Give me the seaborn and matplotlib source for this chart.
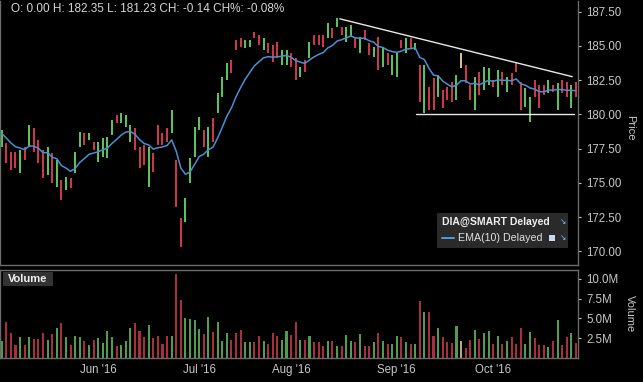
import numpy as np
import pandas as pd
import matplotlib
matplotlib.use("Agg")
import matplotlib.pyplot as plt
from matplotlib.patches import Rectangle
import seaborn as sns

# ---------------- data ----------------
holidays = ["2016-05-30", "2016-07-04", "2016-09-05"]
dates = pd.bdate_range("2016-05-02", "2016-10-27")
dates = dates[~dates.isin(pd.to_datetime(holidays))]

high = [178.86, 177.91, 177.25, 177.25, 177.40, 177.62, 179.22, 179.00, 178.13, 177.40,
        177.62, 177.18, 176.67, 175.21, 175.43, 175.36, 177.25, 178.71, 178.64, 178.64,
        177.98, 177.98, 178.27, 178.35, 179.59, 179.95, 180.10, 179.95, 179.22, 179.00,
        177.62, 177.76, 177.62, 177.18, 179.22, 178.64, 179.00, 180.30, 176.67, 172.44,
        173.90, 176.81, 179.08, 179.81, 178.86, 179.08, 179.74, 181.56, 182.72, 183.74,
        183.96, 185.42, 185.57, 185.42, 185.42, 186.00, 185.79, 185.57, 185.20, 185.06,
        185.28, 184.69, 184.69, 184.47, 184.11, 183.45, 183.96, 185.28, 185.79, 185.79,
        185.79, 186.66, 186.30, 187.03, 186.37, 186.37, 186.52, 185.64, 185.64, 186.15,
        185.20, 184.91, 185.64, 184.91, 184.47, 184.33, 184.47, 185.42, 185.57, 185.57,
        185.20, 183.60, 183.60, 181.99, 182.65, 182.87, 181.77, 181.99, 182.36, 182.87,
        184.47, 183.60, 182.14, 182.72, 183.09, 183.45, 183.38, 182.50, 183.23, 183.09,
        182.72, 183.01, 183.82, 182.36, 181.92, 181.26, 182.50, 182.14, 182.14, 182.50,
        182.14, 182.28, 182.50, 182.36, 182.14, 182.35]
low = [177.62, 176.45, 175.94, 176.09, 175.72, 176.67, 177.62, 177.25, 176.45, 175.36,
       175.58, 174.99, 174.70, 173.75, 174.48, 174.63, 175.72, 177.62, 177.76, 178.13,
       177.40, 176.52, 176.89, 176.81, 178.49, 179.37, 179.37, 179.08, 177.98, 177.40,
       176.09, 176.30, 174.70, 175.80, 177.76, 177.76, 177.98, 178.64, 173.24, 170.33,
       172.15, 174.99, 176.89, 178.86, 177.62, 176.89, 177.98, 180.10, 181.26, 182.50,
       183.01, 184.69, 184.91, 184.84, 184.91, 185.57, 185.06, 184.69, 184.47, 183.82,
       184.11, 183.60, 183.60, 183.45, 182.50, 182.72, 183.09, 184.11, 185.06, 185.06,
       184.91, 185.57, 185.57, 186.37, 185.79, 185.28, 185.64, 184.84, 184.47, 185.42,
       184.33, 184.18, 183.23, 183.45, 183.60, 182.87, 182.72, 184.84, 184.47, 184.84,
       184.69, 180.90, 180.10, 180.32, 180.32, 181.26, 180.46, 181.04, 180.90, 181.04,
       183.38, 182.28, 181.04, 180.32, 181.41, 181.77, 182.14, 181.99, 181.26, 182.14,
       181.63, 182.14, 183.09, 180.32, 180.53, 179.44, 181.26, 180.46, 181.41, 181.56,
       181.63, 180.32, 181.56, 181.26, 180.46, 181.23]
close = [178.6, 176.8, 176.3, 176.4, 177.1, 176.9, 178.9, 177.6, 176.8, 175.8,
         177.2, 175.4, 176.2, 174.1, 175.2, 174.8, 177.0, 178.5, 178.0, 178.5,
         177.6, 177.7, 178.0, 178.1, 179.4, 179.5, 179.9, 179.7, 179.0, 177.6,
         176.4, 176.6, 177.3, 176.1, 178.0, 177.9, 178.2, 180.0, 173.5, 170.6,
         173.6, 176.6, 178.8, 179.5, 177.9, 178.9, 178.4, 181.3, 182.5, 183.5,
         183.2, 184.9, 185.0, 185.3, 185.3, 185.7, 185.2, 185.4, 184.6, 184.0,
         184.3, 184.5, 184.5, 183.6, 182.8, 183.3, 183.3, 185.1, 185.2, 185.2,
         185.1, 186.4, 185.8, 186.8, 185.9, 186.2, 186.3, 185.0, 185.4, 185.6,
         184.5, 184.8, 183.5, 184.6, 183.8, 184.1, 184.3, 185.0, 185.4, 185.0,
         185.1, 181.0, 183.3, 180.5, 180.6, 182.6, 180.7, 181.2, 181.1, 182.7,
         183.9, 182.4, 181.2, 182.5, 181.6, 183.2, 183.1, 182.1, 183.0, 182.3,
         182.5, 182.3, 183.2, 180.6, 181.7, 181.0, 181.5, 180.8, 181.6, 182.3,
         181.8, 182.0, 181.8, 181.5, 181.74, 181.60]
direction = list(
    "GRRRGRGRRR" "GRGRGRGGRG" "RGGGGRGGGR" "RRGRRRRGRR" "GGGGRGRGGG"
    "RRRGGRRGRR" "RGGRRGRGRR" "RGRGRGGRGR" "RGRGRGGRGR" "GRGRRGRRRG"
    "YRRGRGGRGR" "GRRRGGRRRG" "RGRRGR")
volume_m = [2.1, 4.6, 3.1, 1.7, 2.7, 1.7, 2.7, 2.4, 2.4, 3.1,
            2.3, 3.0, 3.8, 4.4, 2.6, 1.7, 2.8, 2.7, 2.2, 1.6,
            2.3, 2.5, 1.9, 3.4, 2.6, 1.5, 1.7, 2.1, 3.8, 4.4,
            3.4, 2.6, 4.2, 2.5, 2.8, 1.8, 2.8, 2.8, 10.6, 7.3,
            5.1, 4.9, 4.8, 3.7, 3.0, 5.2, 3.3, 4.5, 2.2, 3.1,
            2.3, 3.1, 3.5, 2.0, 2.0, 2.0, 2.8, 2.1, 1.75, 3.2,
            2.8, 2.3, 3.4, 2.9, 4.6, 2.3, 2.3, 2.8, 2.0, 2.0,
            1.5, 2.1, 2.1, 1.5, 1.5, 2.9, 2.1, 2.0, 3.0, 1.5,
            1.5, 2.0, 3.2, 2.2, 1.8, 1.8, 2.8, 2.6, 2.0, 1.8,
            1.8, 7.2, 5.75, 5.75, 2.8, 3.8, 2.7, 2.0, 1.9, 4.1,
            2.2, 1.3, 2.3, 3.5, 2.4, 3.2, 3.4, 1.8, 2.8, 1.8,
            2.2, 2.6, 1.8, 3.8, 1.8, 3.3, 2.5, 1.7, 1.7, 1.45,
            2.1, 4.8, 1.7, 2.7, 3.1, 1.9]

# annotation lines (bar index, price)
resist_x = [73.6, 124.2]
resist_y = [186.97, 182.75]
support_x = [90.2, 124.6]
support_y = [180.04, 180.04]

price_ticks = [170.0, 172.5, 175.0, 177.5, 180.0, 182.5, 185.0, 187.5]
vol_ticks = [2.5, 5.0, 7.5, 10.0]
header = "O: 0.00 H: 182.35 L: 181.23 CH: -0.14 CH%: -0.08%"

# ---------------- frame ----------------
idx = np.arange(len(dates))
df = pd.DataFrame({"i": idx, "high": high, "low": low, "close": close,
                   "dir": direction, "vol": volume_m})
df["ema"] = df["close"].ewm(span=10, adjust=False).mean()

sns.set_theme(style="dark")
plt.rcParams["font.family"] = ["Liberation Sans", "DejaVu Sans"]

BG = "#000000"
TXT = "#c8c8c8"
GRID = "#6a6a6a"
price_col = {"G": "#5cc85c", "R": "#d03a4c", "Y": "#d8c890"}
vol_col = {"G": "#4e9e4e", "R": "#a8303e", "Y": "#b8aa78"}

W, H = 643, 382
fig = plt.figure(figsize=(W / 100, H / 100), dpi=100, facecolor=BG)

def fx(px):
    return px / W

def fy(py):
    return 1 - py / H

ax = fig.add_axes([0, fy(265), fx(578), fy(1) - fy(265)], facecolor=BG)
axv = fig.add_axes([0, fy(358), fx(578), fy(270) - fy(358)], facecolor=BG)

xlim = (-0.37, 125.45)

# price bars
ax.vlines(df["i"], df["low"], df["high"],
          colors=[price_col[d] for d in df["dir"]], linewidth=1.4)
sns.lineplot(data=df, x="i", y="ema", ax=ax, color="#4a90d4", linewidth=1.1,
             legend=False)
ax.plot(resist_x, resist_y, color="#e8e8e8", linewidth=1.0)
ax.plot(support_x, support_y, color="#e8e8e8", linewidth=1.0)

ax.set_xlim(*xlim)
ax.set_ylim(169.01, 188.27)
ax.set_xlabel("")
ax.set_ylabel("")
ax.set_xticks([])
ax.yaxis.tick_right()
ax.set_yticks(price_ticks)
ax.set_yticklabels([f"{v:.2f}" for v in price_ticks])
ax.tick_params(axis="y", colors=TXT, labelcolor=TXT, labelsize=8.3,
               length=2, width=0.8, pad=4, right=True, left=False)
ax.grid(False)
for s in ["left", "bottom", "right"]:
    ax.spines[s].set_color(GRID)
    ax.spines[s].set_linewidth(1.0)
ax.spines["top"].set_visible(False)

# volume bars
sns.barplot(data=df, x="i", y="vol", hue="dir", palette=vol_col, ax=axv,
            native_scale=True, dodge=False, width=0.45, legend=False,
            saturation=1, linewidth=0)
axv.set_xlim(*xlim)
axv.set_ylim(0, 11.12)
axv.set_xlabel("")
axv.set_ylabel("")
axv.yaxis.tick_right()
axv.set_yticks(vol_ticks)
axv.set_yticklabels([f"{v:.1f}M" for v in vol_ticks])
month_first = [int(np.argmax(dates.month == m)) for m in [6, 7, 8, 9, 10]]
axv.set_xticks(month_first)
axv.set_xticklabels([dates[k].strftime("%b '%y") for k in month_first])
axv.tick_params(axis="y", colors=TXT, labelcolor=TXT, labelsize=8.3,
                length=2, width=0.8, pad=4, right=True, left=False)
axv.tick_params(axis="x", colors=TXT, labelcolor=TXT, labelsize=8.3,
                length=0, pad=4)
axv.grid(False)
for s in ["left", "bottom", "right", "top"]:
    axv.spines[s].set_color(GRID)
    axv.spines[s].set_linewidth(1.0)

# axis titles
fig.text(fx(630), fy(128), "Price", rotation=270, color=TXT, fontsize=8,
         ha="center", va="center")
fig.text(fx(630), fy(314), "Volume", rotation=270, color=TXT, fontsize=8,
         ha="center", va="center")

# header
fig.text(fx(11), fy(9), header, color="#d8d8d8", fontsize=8.5,
         ha="left", va="center")

# legend box
fig.patches.append(Rectangle((fx(437), fy(248)), fx(131), fy(213) - fy(248),
                             transform=fig.transFigure, facecolor="#2a2a2a",
                             edgecolor="none", zorder=5))
fig.text(fx(442), fy(222), "DIA@SMART Delayed", color="#f0f0f0",
         fontsize=7.5, fontweight="bold", ha="left", va="center", zorder=6)
fig.lines.append(plt.Line2D([fx(442), fx(454)], [fy(238), fy(238)],
                            transform=fig.transFigure, color="#4a9ee0",
                            linewidth=1.4, zorder=6))
fig.text(fx(458), fy(238), "EMA(10) Delayed", color="#e0e0e0",
         fontsize=7.7, ha="left", va="center", zorder=6)
fig.patches.append(Rectangle((fx(549), fy(241)), fx(6), fy(235) - fy(241),
                             transform=fig.transFigure, facecolor="#c8d8f0",
                             edgecolor="none", zorder=6))
for yy in (222, 238):
    fig.text(fx(563), fy(yy), "\u2198", color="#8ab8e8", fontsize=5.5,
             ha="center", va="center", zorder=6, family=["DejaVu Sans"])

# volume label box
fig.patches.append(Rectangle((fx(3), fy(286)), fx(50), fy(272) - fy(286),
                             transform=fig.transFigure, facecolor="#333333",
                             edgecolor="none", zorder=5))
fig.text(fx(8), fy(279), "Volume", color="#f0f0f0", fontsize=8,
         fontweight="bold", ha="left", va="center", zorder=6)

fig.savefig("out.png", dpi=100, facecolor=BG)
